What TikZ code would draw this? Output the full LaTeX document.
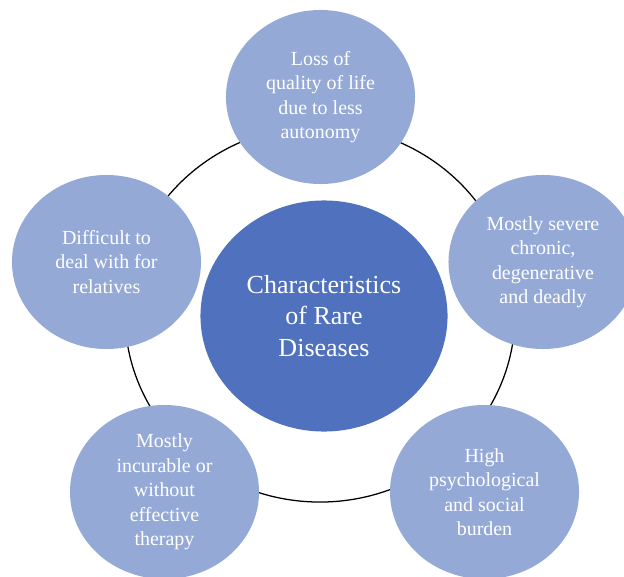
\documentclass[tikz,border=0pt]{standalone}
\usepackage{fontspec}
\setmainfont{Liberation Serif}
\usetikzlibrary{shapes.geometric}
\definecolor{spokefill}{HTML}{95A9D7}
\definecolor{hubfill}{HTML}{5072BE}

\begin{document}
\begin{tikzpicture}[x=0.025cm,y=-0.025cm,
  spoke/.style={ellipse,fill=spokefill,text=white,inner sep=0pt,align=center,
    minimum width=4.725cm,minimum height=4.35cm,font=\fontsize{14.2}{17.4}\selectfont},
  hub/.style={ellipse,fill=hubfill,text=white,inner sep=0pt,align=center,
    minimum width=6.175cm,minimum height=5.775cm,font=\fontsize{18.5}{22.5}\selectfont}]
\clip (0,0) rectangle (624,577);
\coordinate (ring) at (320,314);
\draw[black,line width=0.9pt] (ring) ellipse [x radius=4.875cm,y radius=4.7cm];
\node[hub] (rare) at (324,316) {Characteristics\\of Rare\\Diseases};
\node[spoke] (loss) at (320.5,97) {Loss of\\quality of life\\due to less\\autonomy};
\node[spoke] (severe) at (543,262) {Mostly severe\\chronic,\\degenerative\\and deadly};
\node[spoke] (burden) at (484.5,492) {High\\psychological\\and social\\burden};
\node[spoke] (incurable) at (164.5,492) {Mostly\\incurable or\\without\\effective\\therapy};
\node[spoke] (relatives) at (106.5,262) {Difficult to\\deal with for\\relatives};
\end{tikzpicture}
\end{document}
